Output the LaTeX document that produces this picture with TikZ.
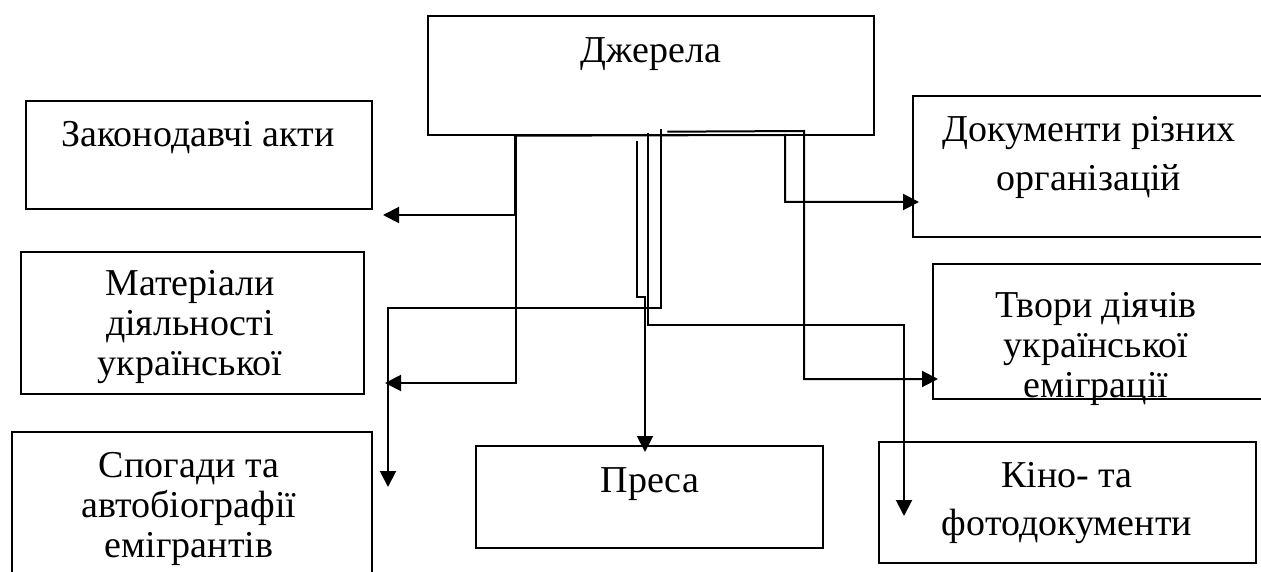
\documentclass[tikz,border=0pt]{standalone}
\usepackage{fontspec}
\setmainfont{Liberation Serif}
\usetikzlibrary{arrows.meta}
\begin{document}
\begin{tikzpicture}[x=1pt,y=-1pt,
  box/.style={draw, line width=1.4pt, inner sep=0pt, rectangle},
  lbl/.style={anchor=base, align=flush center, inner sep=0pt, text width=#1},
  lbl/.default=330pt,
  conn/.style={line width=2pt},
  arr/.style={conn, -{Triangle[length=16pt,width=16pt]}}]
\useasboundingbox (0,0) rectangle (1261,572);
\fontsize{38}{40}\selectfont
% boxes
\node[box, minimum width=446pt, minimum height=119pt] (src) at (651,75.5) {};
\node[box, minimum width=346pt, minimum height=108pt] (zak) at (199,155) {};
\node[box, minimum width=351pt, minimum height=141pt] (doc) at (1088.5,166.5) {};
\node[box, minimum width=343pt, minimum height=142pt] (mat) at (192.5,323) {};
\node[box, minimum width=329pt, minimum height=135pt] (tvo) at (1097.5,331.5) {};
\node[box, minimum width=360pt, minimum height=158pt] (spo) at (192,511) {};
\node[box, minimum width=347pt, minimum height=102pt] (pre) at (649.5,497) {};
\node[box, minimum width=377pt, minimum height=121pt] (kin) at (1067.5,502.5) {};
% texts
\node[lbl] (srcT) at (651,63) {Джерела};
\node[lbl] (zakT) at (198,147) {Законодавчі акти};
\node[lbl, font=\fontsize{38}{49}\selectfont] (docT) at (1089,142) {Документи різних\\організацій};
\node[lbl] (matT) at (190,295) {Матеріали\\діяльності\\української};
\node[lbl] (tvoT) at (1096,317) {Твори діячів\\української\\еміграції};
\node[lbl] (spoT) at (189,477) {Спогади та\\автобіографії\\емігрантів};
\node[lbl] (preT) at (650,492) {Преса};
\node[lbl, font=\fontsize{38}{48}\selectfont] (kinT) at (1067,487) {Кіно- та\\фотодокументи};
% connector points
\coordinate (s1) at ([xshift=88pt]src.south west);
\coordinate (sT) at ([xshift=240pt,yshift=4pt]src.south west);
\coordinate (sS) at ([xshift=234pt,yshift=7pt]src.south west);
\coordinate (sP) at ([xshift=210pt,yshift=-5pt]src.south west);
\coordinate (sK) at ([xshift=221pt,yshift=3pt]src.south west);
\coordinate (tZak) at (383,215);
\coordinate (tMat) at (385,383);
\coordinate (kDoc) at (785,135);
\coordinate (tDoc) at (919,202);
\coordinate (kTvo) at (804,131);
\coordinate (tTvo) at (938,379);
\coordinate (kSpo) at (388,308);
\coordinate (tSpo) at (388,487);
\coordinate (kPre) at (645,297);
\coordinate (tPre) at (645,452);
\coordinate (kKin) at (904,325);
\coordinate (tKin) at (904,516);
% connectors
\draw[arr] (s1) |- (tZak);
\draw[arr] ([xshift=0.6pt]s1) |- (tMat);
\draw[arr] (s1) -- (kDoc) |- (tDoc);
\draw[arr] (sT) -- (kTvo) |- (tTvo);
\draw[arr] (sS) |- (kSpo) -- (tSpo);
\draw[arr] (sP) |- (kPre) -- (tPre);
\draw[arr] (sK) |- (kKin) -- (tKin);
\end{tikzpicture}
\end{document}
